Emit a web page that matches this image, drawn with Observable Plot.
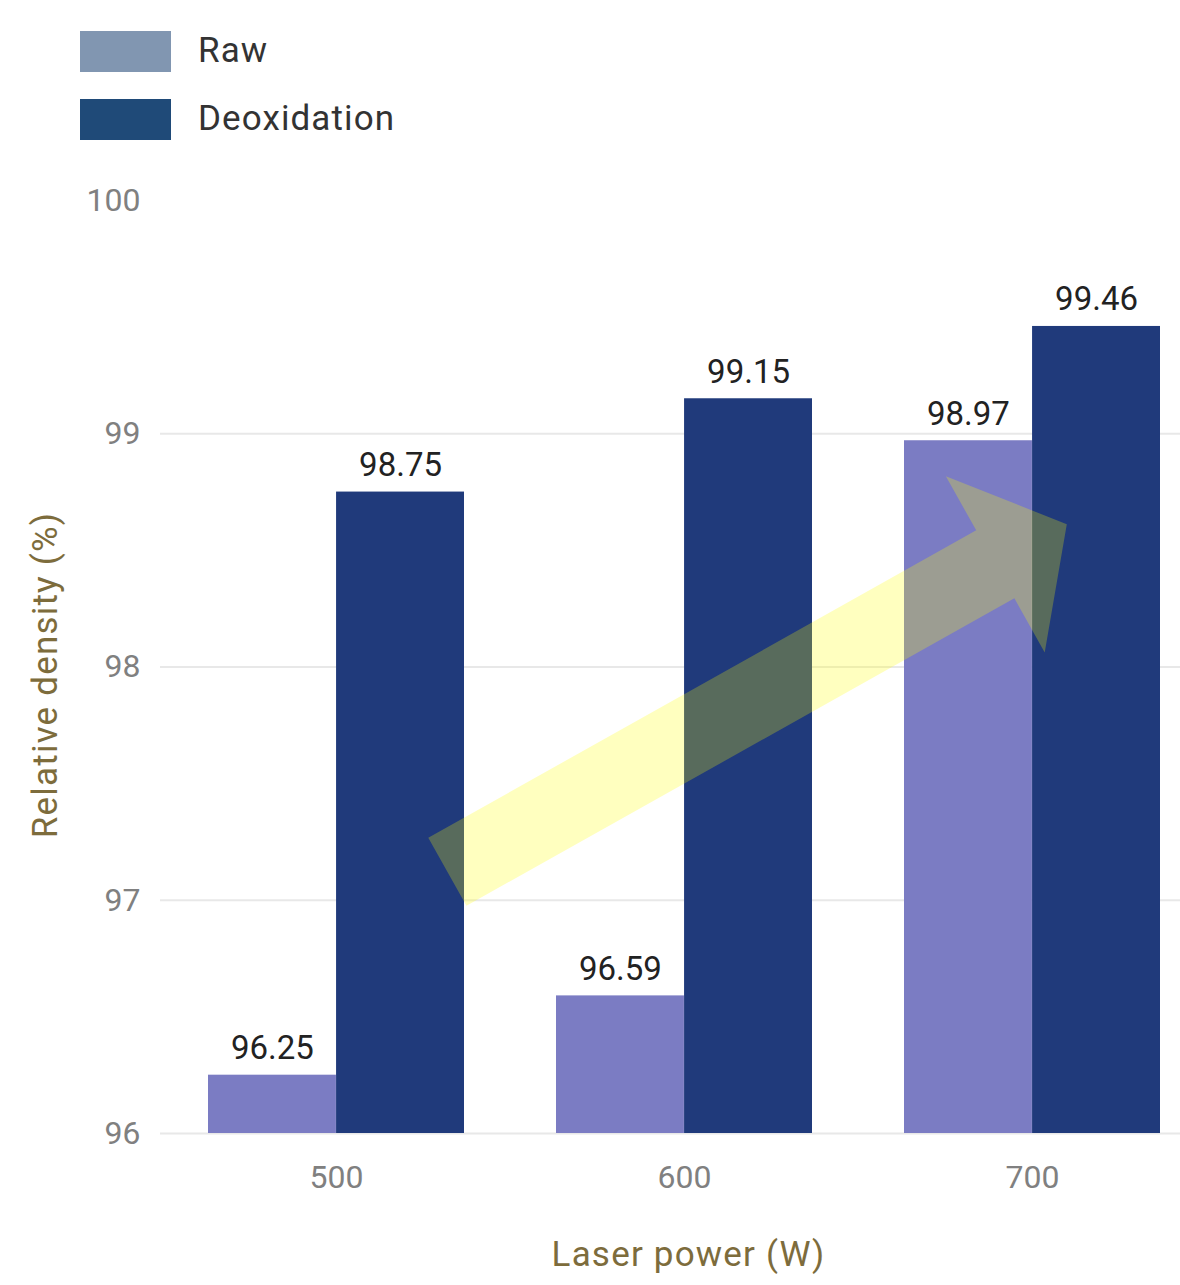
<!DOCTYPE html>
<html><head><meta charset="utf-8">
<script src="https://cdn.jsdelivr.net/npm/d3@7"></script>
<script src="https://cdn.jsdelivr.net/npm/@observablehq/plot@0.6"></script>
<style>
body{margin:0;background:#fff;font-family:Roboto,sans-serif;}
#legend{position:relative;height:160px;width:1180px;}
.sw{position:absolute;left:80px;width:91px;height:41px;}
.lt{position:absolute;left:198px;font-size:35px;letter-spacing:1.1px;color:#333;line-height:41px;}
</style></head><body>
<div id="legend"></div>
<div id="chart"></div>
<script>
// ---- data ----
const powers = ["500", "600", "700"];
const rawDensity = [96.25, 96.59, 98.97];
const deoxDensity = [98.75, 99.15, 99.46];
const series = ["Raw", "Deoxidation"];
const yTicks = [96, 97, 98, 99, 100];
const gridValues = [96, 97, 98, 99];
// trend arrow annotation (power in W, density in %)
const arrowPower = [532, 710];
const arrowDensity = [97.12, 98.61];

// ---- style ----
const barColors = ["#7b7cc3", "#203a7b"];
const legendColors = ["#8196b1", "#1f4a78"];
const olive = "#7d6c3c";
const W = 1180, H = 1125, mL = 160, mR = 0, mT = 40, mB = 152;
const pIn = 0.265, pOut = 0.096, al = 0.7;

// legend
const leg = document.getElementById("legend");
series.forEach((s, i) => {
  const top = 31 + i * 68;
  const sw = document.createElement("div");
  sw.className = "sw"; sw.style.top = top + "px"; sw.style.background = legendColors[i];
  const t = document.createElement("div");
  t.className = "lt"; t.style.top = (top - 1) + "px"; t.textContent = s;
  leg.appendChild(sw); leg.appendChild(t);
});

const bw = d3.scaleBand().domain(powers).range([mL, W - mR])
  .paddingInner(pIn).paddingOuter(pOut).align(al).bandwidth();

const rows = powers.flatMap((p, i) => [
  {power: p, series: series[0], value: rawDensity[i]},
  {power: p, series: series[1], value: deoxDensity[i]}
]);
const rawRows = rows.filter(d => d.series === series[0]);
const deoxRows = rows.filter(d => d.series === series[1]);

function trendArrow(index, scales) {
  const x = scales.x, y = scales.y;
  const b = x.bandwidth();
  const c0 = x(powers[0]) + b / 2, c1 = x(powers[powers.length - 1]) + b / 2;
  const p0 = +powers[0], p1 = +powers[powers.length - 1];
  const px = p => c0 + (p - p0) / (p1 - p0) * (c1 - c0);
  const T = [px(arrowPower[0]), y(arrowDensity[0])];
  const P = [px(arrowPower[1]), y(arrowDensity[1])];
  const dx = P[0] - T[0], dy = P[1] - T[1];
  const L = Math.hypot(dx, dy);
  const u = [dx / L, dy / L], n = [-u[1], u[0]];
  const sw = 39, hw = 101, hl = 82;
  const pts = [[0, -sw], [L - hl, -sw], [L - hl, -hw], [L, 0], [L - hl, hw], [L - hl, sw], [0, sw]]
    .map(([a, c]) => [T[0] + a * u[0] + c * n[0], T[1] + a * u[1] + c * n[1]]);
  const g = d3.create("svg:g");
  g.append("polygon")
    .attr("points", pts.map(p => p.join(",")).join(" "))
    .attr("fill", "#ffff00").attr("fill-opacity", 0.25);
  return g.node();
}

const axisTitles = ["Relative density (%)", "Laser power (W)"];

const chart = Plot.plot({
  width: W, height: H,
  marginLeft: mL, marginRight: mR, marginTop: mT, marginBottom: mB,
  style: {fontFamily: "Roboto, sans-serif", fontSize: "32px", color: "#808080", background: "#fff"},
  x: {type: "band", domain: powers, paddingInner: pIn, paddingOuter: pOut, align: al,
      tickSize: 0, tickPadding: 32, label: null},
  y: {domain: [96, 100], ticks: yTicks, tickFormat: d => d, tickSize: 0, tickPadding: 20, label: null},
  marks: [
    Plot.ruleY(gridValues, {stroke: "#e8e8e8", strokeWidth: 2}),
    Plot.barY(rawRows, {x: "power", y1: () => 96, y2: "value", fill: barColors[0], insetRight: bw / 2}),
    Plot.barY(deoxRows, {x: "power", y1: () => 96, y2: "value", fill: barColors[1], insetLeft: bw / 2}),
    trendArrow,
    Plot.text(rawRows, {x: "power", y: "value", text: d => d.value.toFixed(2), dx: -bw / 4, dy: -16,
      lineAnchor: "bottom", fontSize: 33, fill: "#222"}),
    Plot.text(deoxRows, {x: "power", y: "value", text: d => d.value.toFixed(2), dx: bw / 4, dy: -16,
      lineAnchor: "bottom", fontSize: 33, fill: "#222"}),
    Plot.text([axisTitles[0]], {text: d => d, frameAnchor: "left", rotate: -90, textAnchor: "middle",
      dx: -115, dy: 8, fill: olive, fontSize: 35}),
    Plot.text([axisTitles[1]], {text: d => d, frameAnchor: "bottom", textAnchor: "middle",
      dx: 18, dy: 132, fill: olive, fontSize: 35})
  ]
});
d3.select(chart).selectAll("text")
  .filter(function() { return axisTitles.includes(this.textContent); })
  .style("letter-spacing", "1.2px");
document.getElementById("chart").appendChild(chart);
</script></body></html>
